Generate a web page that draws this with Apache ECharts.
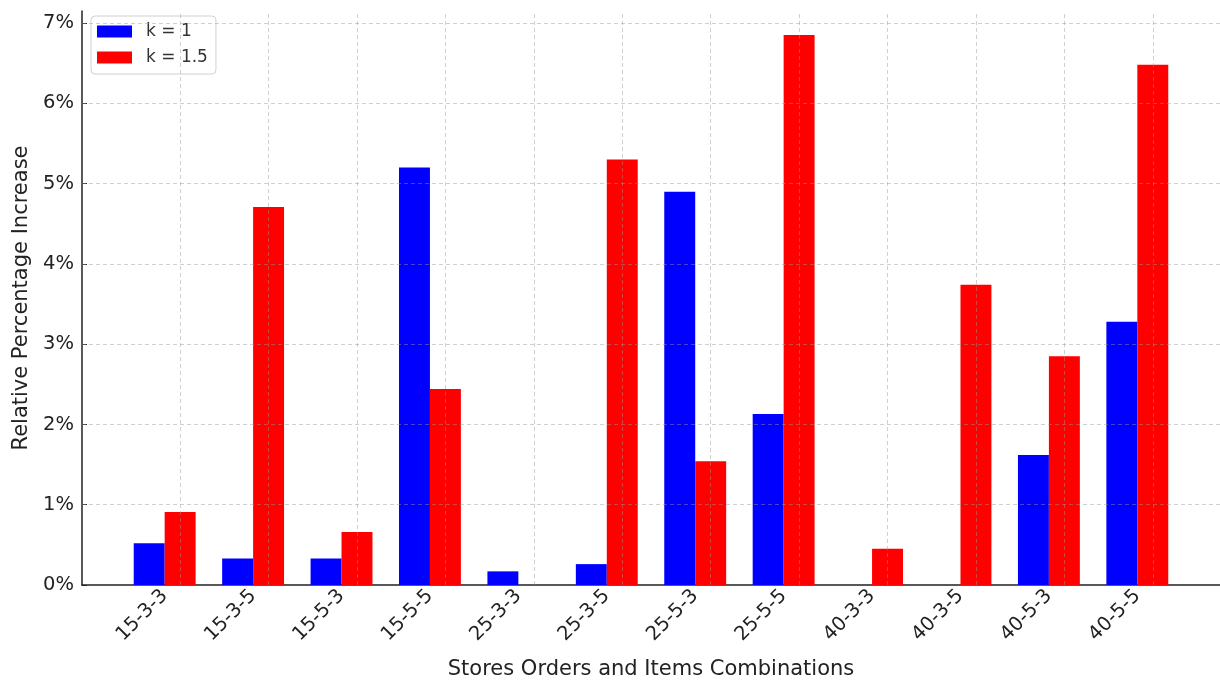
<!DOCTYPE html>
<html>
<head>
<meta charset="utf-8">
<script src="https://cdn.jsdelivr.net/npm/echarts@6/dist/echarts.min.js"></script>
<style>html,body{margin:0;padding:0;background:#fff}#c{width:1220px;height:685px}</style>
</head>
<body>
<div id="c"></div>
<script>
var categories = ['15-3-3','15-3-5','15-5-3','15-5-5','25-3-3','25-3-5','25-5-3','25-5-5','40-3-3','40-3-5','40-5-3','40-5-5'];
var seriesNames = ['k = 1', 'k = 1.5'];
var k1 = [0.52, 0.33, 0.33, 5.20, 0.17, 0.26, 4.90, 2.13, 0, 0, 1.62, 3.28];
var k15 = [0.91, 4.71, 0.66, 2.44, 0, 5.30, 1.54, 6.85, 0.45, 3.74, 2.85, 6.48];
var yTicks = [0, 1, 2, 3, 4, 5, 6, 7];
var yMax = 7.15;

var idx = categories.map(function (c, i) { return i; });
var font = 'DejaVu Sans';
var gridLine = { color: 'rgba(150,150,150,0.45)', type: [4, 3], width: 1 };

var chart = echarts.init(document.getElementById('c'), null, { renderer: 'canvas' });
chart.setOption({
  animation: false,
  textStyle: { fontFamily: font },
  legend: {
    data: seriesNames,
    orient: 'vertical',
    left: 91, top: 16,
    icon: 'rect', itemWidth: 35, itemHeight: 12, itemGap: 9,
    padding: [7, 8, 8, 6],
    borderColor: '#d0d0d0', borderWidth: 1, borderRadius: 4,
    backgroundColor: 'rgba(255,255,255,0.85)',
    textStyle: { fontFamily: font, fontSize: 17, color: '#333', padding: [0, 0, 0, 9] }
  },
  grid: { left: 82, right: 0, top: 11, bottom: 93, containLabel: false },
  xAxis: {
    type: 'value', min: -0.935, max: 11.935,
    axisLine: { onZero: false, lineStyle: { color: '#222', width: 1.5 } },
    splitLine: { show: false },
    axisTick: { show: false },
    axisLabel: {
      customValues: idx, rotate: 45, margin: 8,
      fontFamily: font, fontSize: 19.5, color: '#222',
      formatter: function (v) { var i = Math.round(v); return (Math.abs(v - i) < 1e-6 && categories[i]) ? categories[i] : ''; }
    },
    name: 'Stores Orders and Items Combinations',
    nameLocation: 'middle', nameGap: 74,
    nameTextStyle: { fontFamily: font, fontSize: 21, color: '#222' }
  },
  yAxis: {
    type: 'value', min: 0, max: yMax, interval: 1,
    axisLine: { show: true, onZero: false, lineStyle: { color: '#222', width: 1.5 } },
    splitLine: { show: false },
    axisTick: { show: true, inside: true, customValues: yTicks, length: 5, lineStyle: { color: '#222' } },
    axisLabel: {
      customValues: yTicks, margin: 8,
      fontFamily: font, fontSize: 19.5, color: '#222',
      formatter: function (v) { return (Math.abs(v - Math.round(v)) < 1e-6) ? Math.round(v) + '%' : ''; }
    },
    name: 'Relative Percentage Increase',
    nameLocation: 'middle', nameGap: 49,
    nameTextStyle: { fontFamily: font, fontSize: 21, color: '#222' }
  },
  series: [
    {
      name: seriesNames[0], type: 'bar',
      data: k1.map(function (v, i) { return [i, v]; }),
      barWidth: '35%', barGap: '0%',
      itemStyle: { color: '#0000ff' }
    },
    {
      name: seriesNames[1], type: 'bar',
      data: k15.map(function (v, i) { return [i, v]; }),
      barWidth: '35%', barGap: '0%',
      itemStyle: { color: '#ff0000' },
      markLine: {
        silent: true, symbol: ['none', 'none'], label: { show: false },
        lineStyle: gridLine,
        emphasis: { disabled: true },
        data: yTicks.filter(function (t) { return t > 0; }).map(function (t) { return { yAxis: t }; })
          .concat(idx.map(function (i) { return { xAxis: i }; }))
      }
    }
  ]
});
</script>
</body>
</html>
